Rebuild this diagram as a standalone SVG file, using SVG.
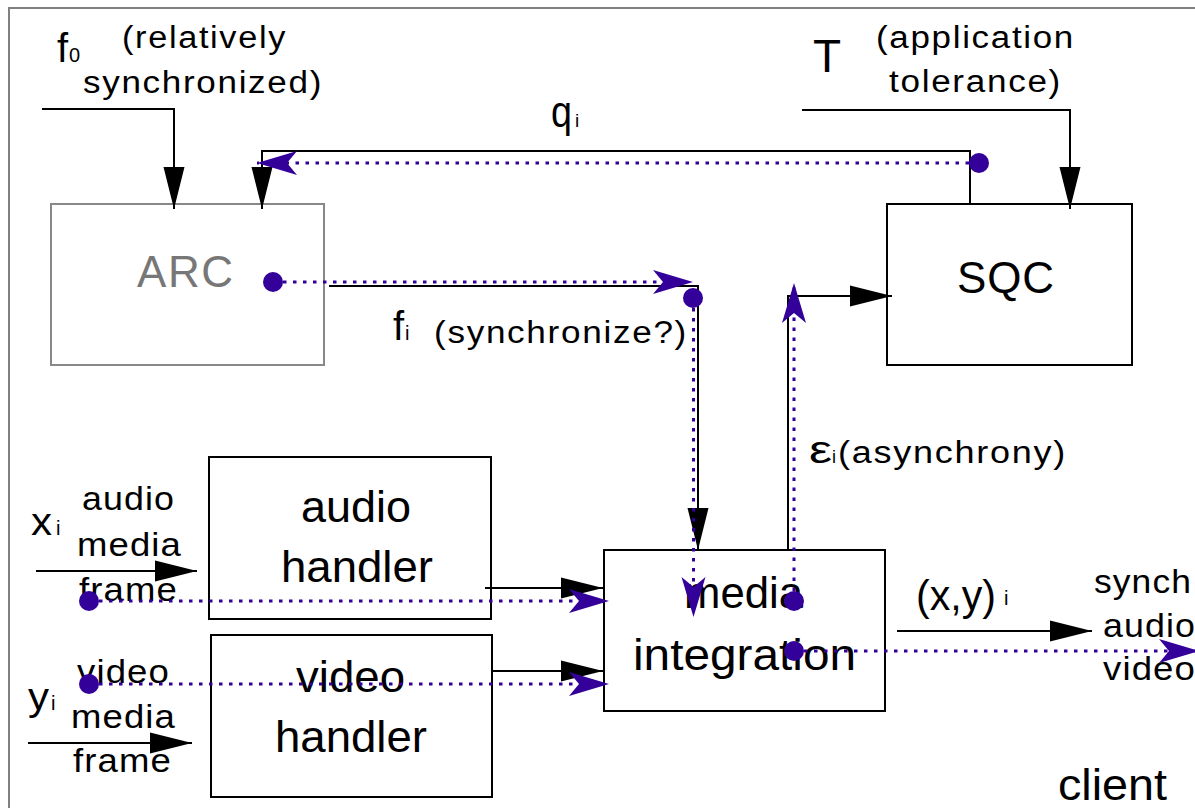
<svg xmlns="http://www.w3.org/2000/svg" width="1195" height="808" viewBox="0 0 1195 808">
<style>
text{font-family:"Liberation Sans",Arial,sans-serif;fill:#000}
.box{fill:#fff;stroke:#000;stroke-width:2}
.gbox{fill:#fff;stroke:#888;stroke-width:2}
.ln{fill:none;stroke:#000;stroke-width:2;marker-end:url(#ab)}
.dt{fill:none;stroke:#330099;stroke-width:3;stroke-dasharray:3.5 6.5;marker-end:url(#ap)}
.dot{fill:#330099}
.big{font-size:45px}
.lab{font-size:31px;letter-spacing:1.5px}
.sm{font-size:33px;letter-spacing:1px}
.sub{font-size:20px}
</style>
<defs>
<marker id="ab" viewBox="-43 -11 44 22" refX="0" refY="0" markerWidth="44" markerHeight="22" orient="auto" markerUnits="userSpaceOnUse"><path d="M0,0 L-42,-10.5 L-42,10.5 Z" fill="#000"/></marker>
<marker id="ap" viewBox="-41 -13 42 26" refX="0" refY="0" markerWidth="42" markerHeight="26" orient="auto" markerUnits="userSpaceOnUse"><path d="M0,0 L-40,-12 L-30,0 L-40,12 Z" fill="#330099"/></marker>
</defs>
<rect x="9" y="8" width="1200" height="820" fill="#fff" stroke="#808080" stroke-width="2"/>

<g id="ARC">
<rect class="gbox" x="51" y="204" width="273" height="161"/>
<text x="137" y="287" font-size="44" textLength="96" lengthAdjust="spacing" style="fill:#777">ARC</text>
</g>
<g id="SQC">
<rect class="box" x="887" y="204" width="245" height="161"/>
<text x="957" y="293" font-size="44" textLength="97" lengthAdjust="spacing">SQC</text>
</g>
<g id="audio-handler">
<rect class="box" x="209" y="457" width="282" height="162"/>
<text class="big" x="301" y="522" textLength="110" lengthAdjust="spacingAndGlyphs">audio</text>
<text class="big" x="281" y="582" textLength="152" lengthAdjust="spacingAndGlyphs">handler</text>
</g>
<g id="video-handler">
<rect class="box" x="211" y="635" width="281" height="162"/>
<text class="big" x="296" y="692" textLength="109" lengthAdjust="spacingAndGlyphs">video</text>
<text class="big" x="275" y="752" textLength="152" lengthAdjust="spacingAndGlyphs">handler</text>
</g>
<g id="media-integration">
<rect class="box" x="604" y="550" width="281" height="161"/>
<text class="big" x="684" y="608" textLength="119" lengthAdjust="spacingAndGlyphs">media</text>
<text class="big" x="633" y="670" textLength="223" lengthAdjust="spacingAndGlyphs">integration</text>
</g>

<g id="labels">
<text x="57" y="62" font-size="40">f</text>
<text class="sub" x="69" y="62">0</text>
<text class="lab" x="122" y="48" textLength="165" lengthAdjust="spacingAndGlyphs">(relatively</text>
<text class="lab" x="83" y="93" textLength="240" lengthAdjust="spacingAndGlyphs">synchronized)</text>
<text x="813" y="72" font-size="46">T</text>
<text class="lab" x="876" y="48" textLength="199" lengthAdjust="spacingAndGlyphs">(application</text>
<text class="lab" x="889" y="92" textLength="173" lengthAdjust="spacingAndGlyphs">tolerance)</text>
<text x="551" y="127" font-size="44" textLength="21" lengthAdjust="spacingAndGlyphs">q</text>
<text x="575" y="127" font-size="19">i</text>
<text x="393" y="340" font-size="40">f</text>
<text class="sub" x="405" y="340">i</text>
<text class="lab" x="434" y="343" textLength="254" lengthAdjust="spacingAndGlyphs">(synchronize?)</text>
<text x="809" y="463" font-size="38" textLength="23" lengthAdjust="spacingAndGlyphs">ε</text>
<text x="832" y="463" font-size="18">i</text>
<text class="lab" x="838" y="463" textLength="229" lengthAdjust="spacingAndGlyphs">(asynchrony)</text>
<text x="31" y="535" font-size="38" textLength="21" lengthAdjust="spacingAndGlyphs">x</text>
<text class="sub" x="56" y="535">i</text>
<text class="sm" x="82" y="510" textLength="93" lengthAdjust="spacingAndGlyphs">audio</text>
<text class="sm" x="77" y="556" textLength="105" lengthAdjust="spacingAndGlyphs">media</text>
<text class="sm" x="79" y="601" textLength="99" lengthAdjust="spacingAndGlyphs">frame</text>
<text x="28" y="710" font-size="38" textLength="21" lengthAdjust="spacingAndGlyphs">y</text>
<text class="sub" x="51" y="710">i</text>
<text class="sm" x="77" y="683" textLength="93" lengthAdjust="spacingAndGlyphs">video</text>
<text class="sm" x="71" y="728" textLength="105" lengthAdjust="spacingAndGlyphs">media</text>
<text class="sm" x="73" y="772" textLength="99" lengthAdjust="spacingAndGlyphs">frame</text>
<text x="916" y="610" font-size="42" textLength="80" lengthAdjust="spacingAndGlyphs">(x,y)</text>
<text class="sub" x="1004" y="605">i</text>
<text class="sm" x="1094" y="593" textLength="98" lengthAdjust="spacingAndGlyphs">synch</text>
<text class="sm" x="1103" y="637" textLength="93" lengthAdjust="spacingAndGlyphs">audio</text>
<text class="sm" x="1103" y="680" textLength="93" lengthAdjust="spacingAndGlyphs">video</text>
<text x="1058" y="800" font-size="44" textLength="109" lengthAdjust="spacingAndGlyphs">client</text>
</g>

<g id="connectors">
<polyline class="ln" points="42,109 174,109 174,209"/>
<polyline class="ln" points="802,110 1070,110 1070,209"/>
<polyline class="ln" points="970,204 970,151 262,151 262,209"/>
<polyline class="ln" points="329,286 698,286 698,550"/>
<polyline class="ln" points="788,550 788,296 892,296"/>
<line class="ln" x1="485" y1="588" x2="603" y2="588"/>
<line class="ln" x1="492" y1="671" x2="603" y2="671"/>
<line class="ln" x1="36" y1="571" x2="197" y2="571"/>
<line class="ln" x1="28" y1="743" x2="192" y2="743"/>
<line class="ln" x1="897" y1="631" x2="1092" y2="631"/>

<line class="dt" x1="979" y1="163" x2="257" y2="163"/>
<line class="dt" x1="273" y1="282" x2="693" y2="282"/>
<line class="dt" x1="693.5" y1="298" x2="693.5" y2="617"/>
<line class="dt" x1="794" y1="601" x2="794" y2="283"/>
<line class="dt" x1="89" y1="601" x2="609" y2="601"/>
<line class="dt" x1="89" y1="684" x2="609" y2="684"/>
<line class="dt" x1="794" y1="651" x2="1199" y2="651"/>

<circle class="dot" cx="979" cy="163" r="10"/>
<circle class="dot" cx="273" cy="282" r="10"/>
<circle class="dot" cx="693" cy="298" r="10"/>
<circle class="dot" cx="794" cy="601" r="10"/>
<circle class="dot" cx="794" cy="651" r="10"/>
<circle class="dot" cx="89" cy="601" r="10"/>
<circle class="dot" cx="89" cy="684" r="10"/>
</g>
</svg>
